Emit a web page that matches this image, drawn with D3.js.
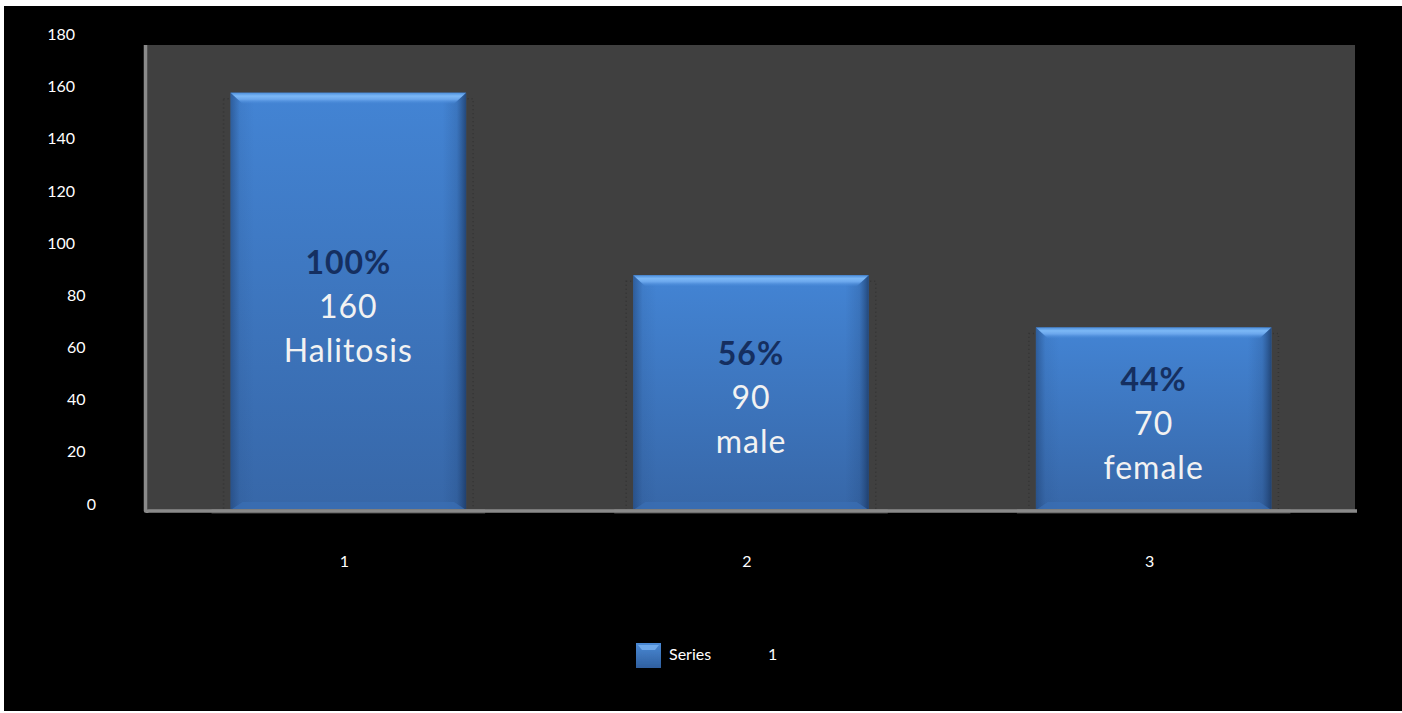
<!DOCTYPE html>
<html>
<head>
<meta charset="utf-8">
<script src="https://cdn.jsdelivr.net/npm/d3@7"></script>
<style>
  html, body { margin: 0; padding: 0; background: #000; }
  svg { display: block; }
</style>
</head>
<body>
<svg id="chart" width="1402" height="713"></svg>
<script>
// Chart data
const categories = ["1", "2", "3"];
const values = [160, 90, 70];
const percentLabels = ["100%", "56%", "44%"];
const nameLabels = ["Halitosis", "male", "female"];
const yTicks = [0, 20, 40, 60, 80, 100, 120, 140, 160, 180];
const legendParts = ["Series", "1"];

const W = 1402, H = 713;
const svg = d3.select("#chart");
const fontFamily = "Lato, 'Open Sans', sans-serif";

// page frame
svg.append("rect").attr("width", W).attr("height", H).attr("fill", "#fff");
svg.append("rect").attr("x", 4).attr("y", 6).attr("width", W - 4).attr("height", H - 8).attr("fill", "#000");

const plot = { left: 147, right: 1355, top: 45, bottom: 510 };

const x = d3.scaleBand()
  .domain(categories)
  .range([plot.left, plot.right])
  .paddingInner(0.415)
  .paddingOuter(0.2075);

const y = d3.scaleLinear()
  .domain([0, 180])
  .range([plot.bottom, plot.bottom - 180 * 2.608]);

// gradients
const defs = svg.append("defs");
const body = defs.append("linearGradient").attr("id", "barBody")
  .attr("x1", 0).attr("y1", 0).attr("x2", 0).attr("y2", 1);
body.append("stop").attr("offset", "0%").attr("stop-color", "#4384d4");
body.append("stop").attr("offset", "100%").attr("stop-color", "#3767a8");

const sides = defs.append("linearGradient").attr("id", "barSides")
  .attr("x1", 0).attr("y1", 0).attr("x2", 1).attr("y2", 0);
sides.append("stop").attr("offset", "0%").attr("stop-color", "#1d3f70").attr("stop-opacity", 0.55);
sides.append("stop").attr("offset", "4%").attr("stop-color", "#1d3f70").attr("stop-opacity", 0.1);
sides.append("stop").attr("offset", "10%").attr("stop-color", "#1d3f70").attr("stop-opacity", 0);
sides.append("stop").attr("offset", "90%").attr("stop-color", "#1d3f70").attr("stop-opacity", 0);
sides.append("stop").attr("offset", "96%").attr("stop-color", "#1d3f70").attr("stop-opacity", 0.2);
sides.append("stop").attr("offset", "100%").attr("stop-color", "#162f55").attr("stop-opacity", 0.7);

const bevel = defs.append("linearGradient").attr("id", "barBevel")
  .attr("x1", 0).attr("y1", 0).attr("x2", 0).attr("y2", 1);
bevel.append("stop").attr("offset", "0%").attr("stop-color", "#4d8fdc");
bevel.append("stop").attr("offset", "30%").attr("stop-color", "#7cb8f6");
bevel.append("stop").attr("offset", "60%").attr("stop-color", "#6aa6ec");
bevel.append("stop").attr("offset", "100%").attr("stop-color", "#4586d6").attr("stop-opacity", 0.2);

const legendGrad = defs.append("linearGradient").attr("id", "legendGrad")
  .attr("x1", 0).attr("y1", 0).attr("x2", 0).attr("y2", 1);
legendGrad.append("stop").attr("offset", "0%").attr("stop-color", "#4b8ad6");
legendGrad.append("stop").attr("offset", "100%").attr("stop-color", "#2f5f9f");

defs.append("filter").attr("id", "soft").append("feGaussianBlur").attr("stdDeviation", 0.6);

// plot background
svg.append("rect")
  .attr("x", plot.left).attr("y", plot.top)
  .attr("width", plot.right - plot.left).attr("height", plot.bottom - plot.top)
  .attr("fill", "#404040");

// y tick labels
svg.append("g").selectAll("text").data(yTicks).join("text")
  .attr("x", d => 75 + (3 - String(d).length) * 10.5)
  .attr("y", d => y(d) - 7)
  .attr("text-anchor", "end")
  .attr("dominant-baseline", "central")
  .attr("fill", "#fff")
  .attr("font-family", fontFamily)
  .attr("font-size", 16)
  .text(d => d);

// bars
const bars = svg.append("g").selectAll("g").data(values).join("g");

// soft dotted shadow around each bar
bars.append("rect")
  .attr("x", (d, i) => x(categories[i]) - 7)
  .attr("y", d => y(d) + 6)
  .attr("width", x.bandwidth() + 14)
  .attr("height", d => plot.bottom - y(d) - 6)
  .attr("fill", "none")
  .attr("stroke", "#333")
  .attr("stroke-width", 1.5)
  .attr("stroke-dasharray", "1 3");

bars.append("rect")
  .attr("x", (d, i) => x(categories[i]))
  .attr("y", d => y(d))
  .attr("width", x.bandwidth())
  .attr("height", d => plot.bottom - y(d))
  .attr("fill", "url(#barBody)");

bars.append("rect")
  .attr("x", (d, i) => x(categories[i]))
  .attr("y", d => y(d))
  .attr("width", x.bandwidth())
  .attr("height", d => plot.bottom - y(d))
  .attr("fill", "url(#barSides)");

// top bevel highlight
bars.append("path")
  .attr("d", (d, i) => {
    const x0 = x(categories[i]), x1 = x0 + x.bandwidth(), t = y(d);
    return `M${x0},${t}L${x1},${t}L${x1 - 12},${t + 11}L${x0 + 12},${t + 11}Z`;
  })
  .attr("fill", "url(#barBevel)");

// bottom bevel
bars.append("path")
  .attr("d", (d, i) => {
    const x0 = x(categories[i]), x1 = x0 + x.bandwidth(), b = plot.bottom;
    return `M${x0},${b}L${x1},${b}L${x1 - 12},${b - 8}L${x0 + 12},${b - 8}Z`;
  })
  .attr("fill", "#3a6fb5")
  .attr("opacity", 0.7);

// axis lines
svg.append("path")
  .attr("d", `M${plot.left - 1.5},${plot.top}V${plot.bottom + 1}Q${plot.left - 1.5},${plot.bottom + 1.5} ${plot.left + 2},${plot.bottom + 1}H${plot.right + 2}`)
  .attr("fill", "none")
  .attr("stroke", "#8a8a8a")
  .attr("stroke-width", 3.5);

// base reflection under each bar
bars.append("rect")
  .attr("x", (d, i) => x(categories[i]) - 19)
  .attr("y", plot.bottom - 1)
  .attr("width", x.bandwidth() + 38)
  .attr("height", 3)
  .attr("fill", "#5c5c5c");
bars.append("rect")
  .attr("x", (d, i) => x(categories[i]) - 19)
  .attr("y", plot.bottom + 2)
  .attr("width", x.bandwidth() + 38)
  .attr("height", 2)
  .attr("fill", "#262626");

// labels inside bars
const labelLines = values.map((v, i) => [
  { text: percentLabels[i], bold: true, color: "#152f60" },
  { text: String(v), bold: false, color: "#f2f2f2" },
  { text: nameLabels[i], bold: false, color: "#f2f2f2" }
]);

bars.each(function (d, i) {
  const cx = x(categories[i]) + x.bandwidth() / 2;
  const cy = (y(d) + plot.bottom) / 2 + 4;
  d3.select(this).selectAll("text.lbl").data(labelLines[i]).join("text")
    .attr("class", "lbl")
    .attr("x", cx)
    .attr("y", (l, j) => cy + (j - 1) * 44)
    .attr("text-anchor", "middle")
    .attr("dominant-baseline", "central")
    .attr("font-family", fontFamily)
    .attr("font-size", 32)
    .attr("font-weight", l => l.bold ? 700 : 400)
    .attr("letter-spacing", 1)
    .attr("fill", l => l.color)
    .text(l => l.text);
});

// x category labels
svg.append("g").selectAll("text").data(categories).join("text")
  .attr("x", d => x(d) + x.bandwidth() / 2 - 4)
  .attr("y", 560)
  .attr("text-anchor", "middle")
  .attr("dominant-baseline", "central")
  .attr("fill", "#fff")
  .attr("font-family", fontFamily)
  .attr("font-size", 16)
  .text(d => d);

// legend
const lg = svg.append("g");
lg.append("rect")
  .attr("x", 636).attr("y", 643).attr("width", 25).attr("height", 25)
  .attr("fill", "url(#legendGrad)").attr("filter", "url(#soft)");
lg.append("path")
  .attr("d", "M638,645H659L655,650H642Z")
  .attr("fill", "#79b3f2").attr("opacity", 0.8);
lg.append("text")
  .attr("x", 669).attr("y", 653)
  .attr("dominant-baseline", "central")
  .attr("fill", "#fff").attr("font-family", fontFamily).attr("font-size", 16)
  .text(legendParts[0]);
lg.append("text")
  .attr("x", 768).attr("y", 653)
  .attr("dominant-baseline", "central")
  .attr("fill", "#fff").attr("font-family", fontFamily).attr("font-size", 16)
  .text(legendParts[1]);
</script>
</body>
</html>
